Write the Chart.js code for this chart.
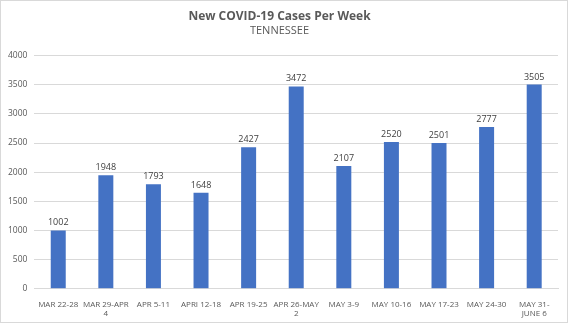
<!DOCTYPE html>
<html>
<head>
<meta charset="utf-8">
<script src="https://cdn.jsdelivr.net/npm/chart.js@4"></script>
<style>
  body { margin: 0; background: #fff; }
  #wrap { width: 566px; height: 321px; border: 1px solid #d9d9d9; position: relative; }
</style>
</head>
<body>
<div id="wrap"><canvas id="cases-chart"></canvas></div>
<script>
// weekly labels, as shown (wrapped like the original)
const weeks = [
  "MAR 22-28", ["MAR 29-APR", "4"], "APR 5-11", "APRI 12-18", "APR 19-25",
  ["APR 26-MAY", "2"], "MAY 3-9", "MAY 10-16", "MAY 17-23", "MAY 24-30", ["MAY 31-", "JUNE 6"]
];
const newCases = [1002, 1948, 1793, 1648, 2427, 3472, 2107, 2520, 2501, 2777, 3505];
const yTicks = [0, 500, 1000, 1500, 2000, 2500, 3000, 3500, 4000];

const font = "'Open Sans', 'Liberation Sans', sans-serif";

// draws the value above each bar
const barValues = {
  id: "barValues",
  afterDatasetsDraw(chart) {
    const ctx = chart.ctx;
    const meta = chart.getDatasetMeta(0);
    ctx.save();
    ctx.font = "9px " + font;
    ctx.fillStyle = "#404040";
    ctx.textAlign = "center";
    ctx.textBaseline = "bottom";
    meta.data.forEach((bar, i) => {
      ctx.fillText(chart.data.datasets[0].data[i], bar.x, bar.y - 3);
    });
    ctx.restore();
  }
};

const ctx = document.getElementById("cases-chart").getContext("2d");
new Chart(ctx, {
  type: "bar",
  data: {
    labels: weeks,
    datasets: [{
      label: "New Cases",
      data: newCases,
      backgroundColor: "#4472c4",
      barPercentage: 0.63,
      categoryPercentage: 0.5
    }]
  },
  options: {
    responsive: true,
    maintainAspectRatio: false,
    animation: false,
    layout: { padding: { left: 0, right: 9, top: 0, bottom: 0 } },
    plugins: {
      legend: { display: false },
      tooltip: { enabled: false },
      title: {
        display: true,
        text: "New COVID-19 Cases Per Week",
        color: "#595959",
        font: { family: font, size: 12, weight: "bold" },
        padding: { top: 8, bottom: 1 }
      },
      subtitle: {
        display: true,
        text: "TENNESSEE",
        color: "#595959",
        font: { family: font, size: 11 },
        padding: { top: 0, bottom: 18 }
      }
    },
    scales: {
      x: {
        grid: { display: false },
        border: { color: "#d9d9d9" },
        ticks: {
          color: "#595959",
          font: { family: font, size: 8 },
          maxRotation: 0,
          autoSkip: false,
          padding: 3
        }
      },
      y: {
        min: 0,
        max: 4000,
        afterBuildTicks(axis) {
          axis.ticks = yTicks.map(v => ({ value: v }));
        },
        grid: { color: "#d9d9d9", drawTicks: false },
        border: { display: false },
        ticks: {
          color: "#595959",
          font: { family: font, size: 8.5 },
          padding: 7,
          callback: v => String(v)
        }
      }
    }
  },
  plugins: [barValues]
});
</script>
</body>
</html>
